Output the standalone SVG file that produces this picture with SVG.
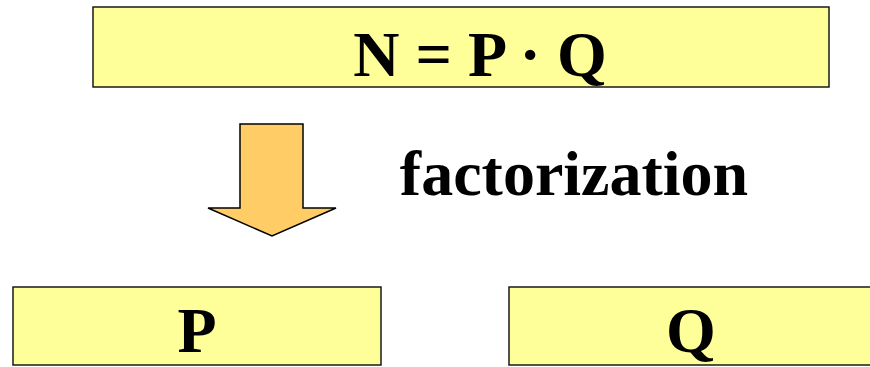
<svg xmlns="http://www.w3.org/2000/svg" width="870" height="367" viewBox="0 0 870 367">
<style>
.box{fill:#FFFF99;stroke:#1a1a1a;stroke-width:1.5}
.t{font-family:"Liberation Serif","Times New Roman",serif;font-weight:bold;font-size:64px;fill:#000;text-anchor:middle}
</style>
<rect width="870" height="367" fill="#fff"/>
<g id="n">
<rect class="box" x="93" y="7" width="736" height="80"/>
<text class="t" x="480" y="76">N = P · Q</text>
</g>
<g id="connectors">
<polygon points="240,124 303,124 303,208 336,208 272,236 208,208 240,208" fill="#FFCC66" stroke="#000" stroke-width="1.5"/>
</g>
<text class="t" x="574" y="195">factorization</text>
<g id="p">
<rect class="box" x="13" y="287" width="368" height="78"/>
<text class="t" x="197" y="352">P</text>
</g>
<g id="q">
<rect class="box" x="509" y="287" width="370" height="78"/>
<text class="t" x="691" y="352">Q</text>
</g>
</svg>
